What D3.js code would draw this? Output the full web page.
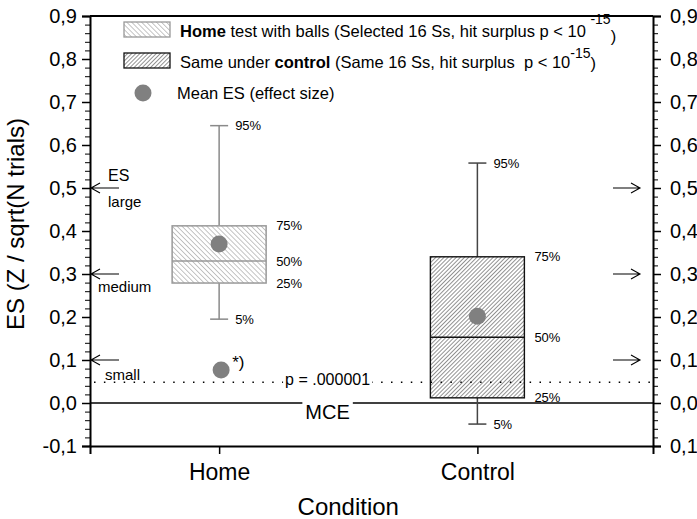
<!DOCTYPE html>
<html>
<head>
<meta charset="utf-8">
<script src="https://cdn.jsdelivr.net/npm/d3@7"></script>
<style>
  body { margin: 0; background: #fff; }
  svg { font-family: "Liberation Sans", Arial, sans-serif; }
</style>
</head>
<body>
<svg id="chart" width="697" height="519"></svg>
<script>
  // data
  const categories = ["Home", "Control"];
  const p95 = [0.645, 0.558];
  const p75 = [0.412, 0.340];
  const p50 = [0.330, 0.153];
  const p25 = [0.279, 0.012];
  const p5 = [0.195, -0.049];
  const meanES = [0.370, 0.202];
  const outlierES = [0.077];        // the "*)" point, Home only
  const esLevels = [0.5, 0.3, 0.1];
  const esNames = ["large", "medium", "small"];
  const pThreshold = 0.048;
  const yTicks = [-0.1, 0, 0.1, 0.2, 0.3, 0.4, 0.5, 0.6, 0.7, 0.8, 0.9];

  const margin = { top: 16, right: 44, bottom: 73, left: 90 };
  const W = 697, H = 519;
  const width = W - margin.left - margin.right,
      height = H - margin.top - margin.bottom;

  const svg = d3.select("#chart");
  const defs = svg.append("defs");

  function hatch(id, angle, step, color, sw) {
      const p = defs.append("pattern")
          .attr("id", id)
          .attr("patternUnits", "userSpaceOnUse")
          .attr("width", step).attr("height", step)
          .attr("patternTransform", "rotate(" + angle + ")");
      p.append("rect").attr("width", step).attr("height", step).attr("fill", "#fff");
      p.append("line")
          .attr("x1", 0).attr("y1", 0).attr("x2", 0).attr("y2", step)
          .attr("stroke", color).attr("stroke-width", sw);
  }
  hatch("hatchHome", -45, 3.5, "#8c8c8c", 1.0);
  hatch("hatchCtrl", 45, 2.9, "#111", 0.9);

  const g = svg.append("g")
      .attr("transform", "translate(" + margin.left + "," + margin.top + ")");

  const x = d3.scaleLinear().domain([0.5, 2.68]).range([0, width]);
  const y = d3.scaleLinear().domain([-0.1, 0.9]).range([height, 0]);

  const fmt = d => d3.format(".1f")(d).replace(".", ",").replace("\u2212", "-");
  const minorTicks = d3.range(-0.1, 0.9, 0.02).map(v => +v.toFixed(2));

  // left axis
  const left = g.append("g")
      .call(d3.axisLeft(y).tickValues(yTicks).tickSize(8).tickPadding(5).tickFormat(fmt));
  g.append("g")
      .call(d3.axisLeft(y).tickValues(minorTicks).tickSize(5).tickFormat(""))
      .select(".domain").remove();

  // right axis
  const right = g.append("g")
      .attr("transform", "translate(" + width + ",0)")
      .call(d3.axisRight(y).tickValues(yTicks).tickSize(8).tickPadding(9)
          .tickFormat(d => fmt(Math.abs(d))));
  g.append("g")
      .attr("transform", "translate(" + width + ",0)")
      .call(d3.axisRight(y).tickValues(minorTicks).tickSize(5).tickFormat(""))
      .select(".domain").remove();

  // bottom axis
  const bottom = g.append("g")
      .attr("transform", "translate(0," + height + ")")
      .call(d3.axisBottom(x).tickValues([1, 2]).tickSize(8).tickPadding(8)
          .tickFormat((d, i) => categories[i]));

  [left, right, bottom].forEach(a => {
      a.selectAll(".domain").attr("stroke-width", 2);
      a.selectAll(".tick line").attr("stroke-width", 1.5);
  });
  left.selectAll("text").attr("font-size", 20).attr("fill", "#000");
  right.selectAll("text").attr("font-size", 20).attr("fill", "#000");
  bottom.selectAll("text").attr("font-size", 23).attr("fill", "#000").attr("dy", "0.78em");
  g.selectAll(".tick line").attr("stroke", "#000");
  g.selectAll(".domain").attr("stroke", "#000");

  // top frame
  g.append("line").attr("x1", 0).attr("x2", width).attr("y1", 0).attr("y2", 0)
      .attr("stroke", "#000").attr("stroke-width", 2);

  // axis titles
  svg.append("text")
      .attr("transform", "translate(24,224) rotate(-90)")
      .attr("text-anchor", "middle").attr("font-size", 24)
      .text("ES (Z / sqrt(N trials)");
  svg.append("text")
      .attr("x", margin.left + x(1.5)).attr("y", 515)
      .attr("text-anchor", "middle").attr("font-size", 24)
      .text("Condition");

  // MCE line at zero
  g.append("line").attr("x1", 0).attr("x2", width).attr("y1", y(0)).attr("y2", y(0))
      .attr("stroke", "#000").attr("stroke-width", 1.5);

  // boxes
  const styles = [
      { fill: "url(#hatchHome)", stroke: "#999", whisker: "#8a8a8a", sw: 1.5 },
      { fill: "url(#hatchCtrl)", stroke: "#111", whisker: "#444", sw: 1.4 }
  ];
  const boxW = 94, capW = 18;

  categories.forEach((c, i) => {
      const cx = x(i + 1), st = styles[i];
      const gb = g.append("g");
      // whiskers
      gb.append("line").attr("x1", cx).attr("x2", cx).attr("y1", y(p95[i])).attr("y2", y(p75[i]))
          .attr("stroke", st.whisker).attr("stroke-width", 1.5);
      gb.append("line").attr("x1", cx).attr("x2", cx).attr("y1", y(p25[i])).attr("y2", y(p5[i]))
          .attr("stroke", st.whisker).attr("stroke-width", 1.5);
      [p95[i], p5[i]].forEach(v => {
          gb.append("line").attr("x1", cx - capW / 2).attr("x2", cx + capW / 2)
              .attr("y1", y(v)).attr("y2", y(v))
              .attr("stroke", st.whisker).attr("stroke-width", 1.5);
      });
      gb.append("rect")
          .attr("x", cx - boxW / 2).attr("width", boxW)
          .attr("y", y(p75[i])).attr("height", y(p25[i]) - y(p75[i]))
          .attr("fill", st.fill).attr("stroke", st.stroke).attr("stroke-width", st.sw);
      gb.append("line").attr("x1", cx - boxW / 2).attr("x2", cx + boxW / 2)
          .attr("y1", y(p50[i])).attr("y2", y(p50[i]))
          .attr("stroke", st.stroke).attr("stroke-width", st.sw);

      // percentile labels
      const lab = (txt, lx, v) => gb.append("text")
          .attr("x", lx).attr("y", y(v)).attr("dy", "0.35em")
          .attr("font-size", 13).text(txt);
      lab("95%", cx + 16, p95[i]);
      lab("75%", cx + boxW / 2 + 10, p75[i]);
      lab("50%", cx + boxW / 2 + 10, p50[i]);
      lab("25%", cx + boxW / 2 + 10, p25[i]);
      lab("5%", cx + 16, p5[i]);

      gb.append("circle").attr("cx", cx).attr("cy", y(meanES[i])).attr("r", 8.5)
          .attr("fill", "#808080");
  });

  // outlier point *)
  outlierES.forEach(v => {
      g.append("circle").attr("cx", x(1) + 2).attr("cy", y(v)).attr("r", 8.5).attr("fill", "#808080");
      g.append("text").attr("x", x(1) + 13).attr("y", y(v) - 2)
          .attr("font-size", 17).text("*)");
  });

  // p threshold dotted line
  g.append("line").attr("x1", 4).attr("x2", width).attr("y1", y(pThreshold)).attr("y2", y(pThreshold))
      .attr("stroke", "#000").attr("stroke-width", 1.5).attr("stroke-dasharray", "1.5,8.4");
  const pt = g.append("text").attr("x", x(1.42)).attr("y", y(pThreshold) + 3)
      .attr("font-size", 16).attr("text-anchor", "middle").text("p = .000001");
  const pb = pt.node().getBBox();
  g.append("rect").attr("x", pb.x - 2).attr("y", y(pThreshold) - 2)
      .attr("width", pb.width + 4).attr("height", 4).attr("fill", "#fff");
  pt.raise();

  const mce = g.append("text").attr("x", x(1.42)).attr("y", y(0) + 16)
      .attr("font-size", 20).attr("text-anchor", "middle").text("MCE");
  const mb = mce.node().getBBox();
  g.append("rect").attr("x", mb.x - 3).attr("y", y(0) - 2)
      .attr("width", mb.width + 6).attr("height", 4).attr("fill", "#fff");
  mce.raise();

  // effect size reference arrows
  esLevels.forEach((v, i) => {
      const yy = y(v);
      g.append("path").attr("d", "M0," + yy + "H29 M10," + (yy - 5) + "L1," + yy + "L10," + (yy + 5))
          .attr("fill", "none").attr("stroke", "#000").attr("stroke-width", 1.1);
      g.append("path").attr("d", "M" + (width - 40) + "," + yy + "H" + (width - 13) +
              " M" + (width - 22) + "," + (yy - 5) + "L" + (width - 13) + "," + yy + "L" + (width - 22) + "," + (yy + 5))
          .attr("fill", "none").attr("stroke", "#000").attr("stroke-width", 1.1);
  });
  g.append("text").attr("x", 18).attr("y", y(0.5) - 7).attr("font-size", 16).text("ES");
  const nameX = [18, 8, 15], nameDy = [19, 18, 20];
  esNames.forEach((n, i) => {
      g.append("text").attr("x", nameX[i]).attr("y", y(esLevels[i]) + nameDy[i])
          .attr("font-size", 15).text(n);
  });

  // legend
  const lg = svg.append("g");
  lg.append("rect").attr("x", 124).attr("y", 22).attr("width", 46).attr("height", 15)
      .attr("fill", "url(#hatchHome)").attr("stroke", "#999").attr("stroke-width", 1.3);
  lg.append("rect").attr("x", 124).attr("y", 53).attr("width", 46).attr("height", 15)
      .attr("fill", "url(#hatchCtrl)").attr("stroke", "#111").attr("stroke-width", 1.3);
  lg.append("circle").attr("cx", 143).attr("cy", 93).attr("r", 8.5).attr("fill", "#808080");

  const t1 = lg.append("text").attr("x", 180).attr("y", 37).attr("font-size", 16.5)
      .style("white-space", "pre");
  t1.append("tspan").attr("font-weight", "bold").text("Home");
  t1.append("tspan").text(" test with balls (Selected 16 Ss, hit surplus p < 10 ");
  t1.append("tspan").attr("dy", -13).attr("font-size", 14).text("-15");
  t1.append("tspan").attr("dy", 18).text(")");

  const t2 = lg.append("text").attr("x", 180).attr("y", 68).attr("font-size", 16.5)
      .style("white-space", "pre");
  t2.append("tspan").text("Same under ");
  t2.append("tspan").attr("font-weight", "bold").text("control");
  t2.append("tspan").text(" (Same 16 Ss, hit surplus  p < 10");
  t2.append("tspan").attr("dy", -10).attr("font-size", 14).text("-15");
  t2.append("tspan").attr("dy", 11).text(")");

  lg.append("text").attr("x", 177).attr("y", 99).attr("font-size", 16.5).text("Mean ES (effect size)");
</script>
</body>
</html>
